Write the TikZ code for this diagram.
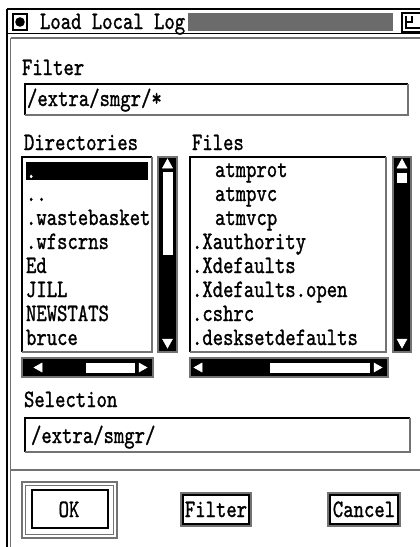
\documentclass[tikz,border=0pt]{standalone}
\usepackage{fontspec}
\newfontfamily\dlgfont{lmmono10-regular.otf}[FakeStretch=0.79,FakeBold=1.1]
\begin{document}
\begin{tikzpicture}[x=1pt,y=-1pt,
  txt/.style={font=\fontsize{25}{26}\selectfont\dlgfont, inner sep=0pt, outer sep=0pt, anchor=base west},
  ctxt/.style={txt, anchor=base},
  stip/.style={draw=black!55, line width=1.3pt},
  ink/.style={draw=black, line width=1.6pt},
  sbar/.style={fill=black, draw=black!55, line width=1.3pt},
  wtri/.style={fill=white, draw=white, line width=0.5pt}]
\useasboundingbox (0,0) rectangle (420,547);
% window frame
\draw[line width=2.2pt] (7,9) -- (7,547);
\draw[stip] (10.5,38) -- (10.5,547);
\draw[ink] (7,9) -- (420,9);
\draw[ink] (7,33.5) -- (420,33.5);
\draw[stip] (10.5,38) -- (420,38);
% title bar
\draw[line width=1.4pt] (13,14) rectangle (27,30);
\fill (20,22) circle (4.8);
\node[txt] (title) at (40,29) {Load Local Log};
\fill[black!58] (188,13) rectangle (393,31);
\draw[line width=1.4pt] (402,13) rectangle (426,32);
\draw[line width=1.2pt] (406,16) -- (406,28) -- (420,28);
\draw[line width=1.2pt] (406,22) -- (412,22) -- (412,16);
% filter
\node[txt] (lblfilter) at (22,75) {Filter};
\draw[ink] (25,115) -- (25,84) -- (408,84);
\draw[stip] (25,115) -- (408,115) -- (408,84);
\node[txt] (filtertxt) at (27,106) {/extra/smgr/*};
% labels
\node[txt] (lbldirs) at (24,150) {Directories};
\node[txt] (lblfiles) at (192,150) {Files};
% directory list
\draw[ink] (22,352) -- (22,157) -- (152,157);
\draw[stip] (22,352) -- (152,352) -- (152,157);
\fill (26,162) rectangle (148,180);
\node[txt, text=white] (d0) at (26,178) {.};
\node[txt] (d1) at (26,201) {..};
\node[txt] (d2) at (26,225) {.wastebasket};
\node[txt] (d3) at (26,249) {.wfscrns};
\node[txt] (d4) at (26,273) {Ed};
\node[txt] (d5) at (26,297) {JILL};
\node[txt] (d6) at (26,321) {NEWSTATS};
\node[txt] (d7) at (26,345) {bruce};
% directory vertical scrollbar
\draw[sbar] (158,157) rectangle (177,352);
\fill[wtri] (162.5,168) -- (172.5,168) -- (167.5,159) -- cycle;
\fill[white] (162.5,172) rectangle (172.5,255);
\fill[wtri] (162.5,339) -- (172.5,339) -- (167.5,348) -- cycle;
% files list
\draw[ink] (190,352) -- (190,157) -- (386,157);
\draw[stip] (190,352) -- (386,352) -- (386,157);
\node[txt] (f0) at (215,177) {atmprot};
\node[txt] (f1) at (215,201) {atmpvc};
\node[txt] (f2) at (215,225) {atmvcp};
\node[txt] (f3) at (192,249) {.Xauthority};
\node[txt] (f4) at (192,273) {.Xdefaults};
\node[txt] (f5) at (192,297) {.Xdefaults.open};
\node[txt] (f6) at (192,321) {.cshrc};
\node[txt] (f7) at (192,345) {.desksetdefaults};
% files vertical scrollbar
\draw[sbar] (393,157) rectangle (411,352);
\fill[wtri] (397,168) -- (407,168) -- (402,159) -- cycle;
\fill[white] (397,173) rectangle (407,183);
\fill[wtri] (397,339) -- (407,339) -- (402,348) -- cycle;
% horizontal scrollbars
\draw[sbar] (22,358) rectangle (153,377);
\fill[wtri] (42,363) -- (42,372) -- (34,367.5) -- cycle;
\fill[white] (86,362.5) rectangle (135,372.5);
\fill[wtri] (139,363) -- (139,372) -- (147,367.5) -- cycle;
\draw[sbar] (190,358) rectangle (388,377);
\fill[wtri] (202,363) -- (202,372) -- (194,367.5) -- cycle;
\fill[white] (270,362.5) rectangle (370,372.5);
\fill[wtri] (374,363) -- (374,372) -- (382,367.5) -- cycle;
% selection
\node[txt] (lblsel) at (24,407) {Selection};
\draw[ink] (25,452) -- (25,418) -- (410,418);
\draw[stip] (25,452) -- (410,452) -- (410,418);
\node[txt] (seltxt) at (31,443) {/extra/smgr/};
% separator
\draw[stip] (10.5,470) -- (420,470);
% buttons
\draw[stip] (22,482) rectangle (117,538);
\draw[stip] (25.5,485.5) rectangle (113.5,534.5);
\draw[line width=1.5pt] (32,490) rectangle (108,528);
\draw[line width=2.6pt] (108,490) -- (108,528) -- (32,528);
\node[ctxt] (ok) at (69,517) {OK};
\draw[stip] (181,493) rectangle (251,526);
\draw[line width=1.5pt] (183,495) rectangle (249,524);
\node[ctxt] (filterbtn) at (216,517) {Filter};
\draw[stip] (328,493) rectangle (400,526);
\draw[line width=1.5pt] (330,495) rectangle (398,524);
\node[ctxt] (cancel) at (364,517) {Cancel};
\end{tikzpicture}
\end{document}
